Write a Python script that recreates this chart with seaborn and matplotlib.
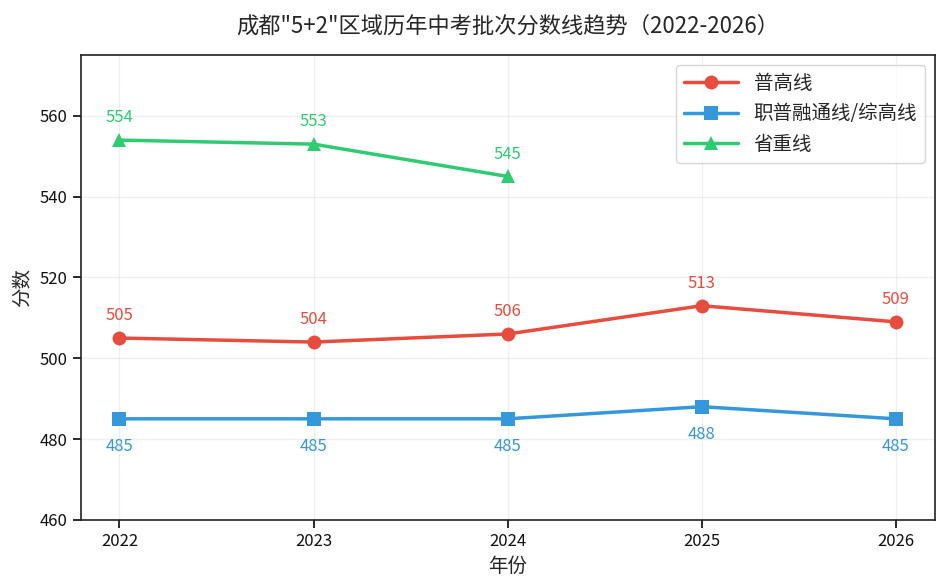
import matplotlib
matplotlib.use("Agg")
import matplotlib.pyplot as plt
import numpy as np
import pandas as pd
import seaborn as sns

sns.set_theme(style="ticks")
plt.rcParams["font.family"] = ["Noto Sans CJK SC", "DejaVu Sans"]
plt.rcParams["axes.unicode_minus"] = False

years = [2022, 2023, 2024, 2025, 2026]
pugao = [505, 504, 506, 513, 509]
zhipu = [485, 485, 485, 488, 485]
shengzhong = [554, 553, 545, np.nan, np.nan]

series = [
    ("普高线", pugao, "#e74c3c", "o", 10),
    ("职普融通线/综高线", zhipu, "#3498db", "s", -14),
    ("省重线", shengzhong, "#2ecc71", "^", 10),
]

fig, ax = plt.subplots(figsize=(9.48, 5.88), dpi=100)
for name, vals, color, marker, off in series:
    df = pd.DataFrame({"年份": years, "分数": vals}).dropna()
    sns.lineplot(data=df, x="年份", y="分数", ax=ax, color=color, marker=marker,
                 markersize=10, linewidth=2.5, markeredgewidth=0, label=name)
    for x, y in zip(df["年份"], df["分数"]):
        ax.annotate(f"{int(y)}", (x, y), textcoords="offset points", xytext=(0, off),
                    ha="center", va="bottom" if off > 0 else "top", color=color, fontsize=12)

ax.set_xlim(2021.8, 2026.2)
ax.set_ylim(460, 575)
ax.set_xticks(years)
ax.set_yticks(range(460, 561, 20))
ax.tick_params(labelsize=12, colors="#111111")
ax.grid(True, alpha=0.3)
ax.set_xlabel("年份", fontsize=14)
ax.set_ylabel("分数", fontsize=14)
ax.set_title("成都\"5+2\"区域历年中考批次分数线趋势（2022-2026）", fontsize=16, pad=16)
ax.legend(loc="upper right", fontsize=14, handlelength=2.8)
for s in ax.spines.values():
    s.set_color("#222222")
    s.set_linewidth(1.2)

fig.subplots_adjust(left=0.085, right=0.986, top=0.906, bottom=0.116)
plt.savefig("out.png", dpi=100)
